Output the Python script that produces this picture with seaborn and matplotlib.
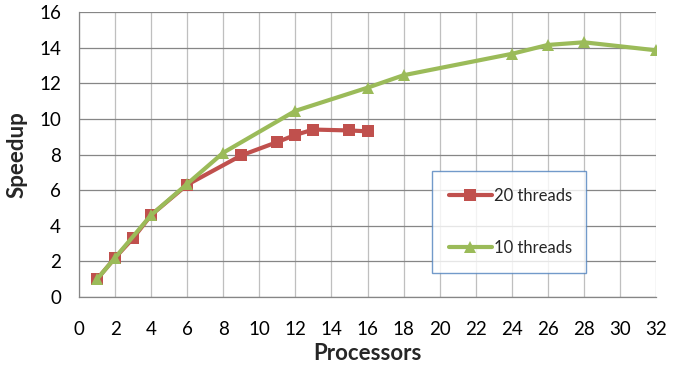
import matplotlib
matplotlib.use("Agg")
import matplotlib.pyplot as plt
import numpy as np
import pandas as pd
import seaborn as sns

# Data
procs_20 = [1, 2, 3, 4, 6, 9, 11, 12, 13, 15, 16]
speedup_20 = [1.0, 2.2, 3.3, 4.6, 6.3, 7.95, 8.7, 9.1, 9.4, 9.35, 9.3]
procs_10 = [1, 2, 4, 6, 8, 12, 16, 18, 24, 26, 28, 32]
speedup_10 = [1.0, 2.2, 4.6, 6.35, 8.1, 10.45, 11.75, 12.45, 13.65, 14.15, 14.3, 13.85]
series_names = ["20 threads", "10 threads"]
x_ticks = list(range(0, 33, 2))
y_ticks = list(range(0, 17, 2))

df = pd.concat([
    pd.DataFrame({"Processors": procs_20, "Speedup": speedup_20, "series": series_names[0]}),
    pd.DataFrame({"Processors": procs_10, "Speedup": speedup_10, "series": series_names[1]}),
])

sns.set_theme(style="white")
plt.rcParams["font.family"] = ["Lato", "DejaVu Sans"]

RED = "#C0504D"
GREEN = "#9BBB59"

fig = plt.figure(figsize=(6.73, 3.70), dpi=100)
ax = fig.add_axes([79 / 673, 1 - 297 / 370, 577 / 673, 285 / 370])

sns.lineplot(data=df, x="Processors", y="Speedup", hue="series", style="series",
             palette={series_names[0]: RED, series_names[1]: GREEN},
             markers={series_names[0]: "s", series_names[1]: "^"},
             dashes=False, linewidth=3, markersize=9, markeredgewidth=0,
             sort=False, ax=ax)

ax.set_xlim(0, 32)
ax.set_ylim(0, 16)
ax.set_xticks(x_ticks)
ax.set_yticks(y_ticks)
ax.tick_params(axis="both", labelsize=13.5, labelcolor="#000000", length=5, width=0.8,
               direction="out", color="#868686")
ax.tick_params(axis="x", pad=12)
ax.tick_params(axis="y", pad=8)

ax.yaxis.grid(True, color="#868686", linewidth=0.9)
ax.xaxis.grid(True, color="#BFBFBF", linewidth=0.9)
ax.set_axisbelow(True)
for side in ["top", "right"]:
    ax.spines[side].set_visible(False)
for side in ["left", "bottom"]:
    ax.spines[side].set_color("#868686")
    ax.spines[side].set_linewidth(0.9)

ax.set_xlabel("Processors", fontsize=16, fontweight="bold", labelpad=4)
ax.set_ylabel("Speedup", fontsize=16, fontweight="bold", labelpad=8)

handles, labels = ax.get_legend_handles_labels()
ax.get_legend().remove()
for h in handles:
    h.set_markersize(9)
leg = fig.legend(handles, labels, loc="center",
                 bbox_to_anchor=(432 / 673, 1 - 267 / 370, 154 / 673, 90 / 370),
                 mode="expand", frameon=True, fancybox=False, fontsize=12,
                 labelspacing=2.2, handlelength=2.6, handletextpad=0.1,
                 borderpad=1.0, borderaxespad=0)
leg.get_frame().set_edgecolor("#4F81BD")
leg.get_frame().set_linewidth(1.0)

fig.savefig("out.png", dpi=100)
